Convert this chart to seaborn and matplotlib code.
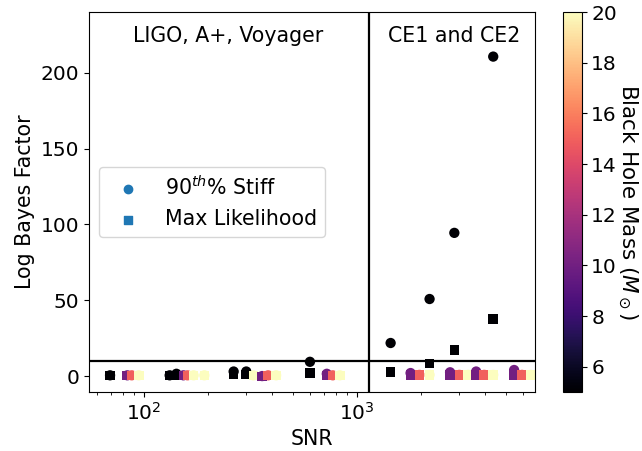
import numpy as np
import pandas as pd
import matplotlib
matplotlib.use('Agg')
import matplotlib.pyplot as plt
import seaborn as sns
from matplotlib.colors import Normalize

# SNR of each event, black hole mass, and log Bayes factors for the two EOS cases
snr = [69.3, 83.5, 87.6, 94.5,
       132, 142, 153, 160, 171, 192,
       263.5, 302, 326, 358.6, 382.5, 417,
       601, 721, 769, 830,
       1437, 1783, 1963, 2189,
       2189, 2732, 3020, 3325,
       2861, 3622, 3953, 4355,
       4355, 5458, 5945, 6540]
mass = [5, 10, 15, 20,
        5, 5, 10, 15, 20, 20,
        5, 5, 20, 10, 15, 20,
        5, 10, 15, 20,
        5, 10, 15, 20,
        5, 10, 15, 20,
        5, 10, 15, 20,
        5, 10, 15, 20]
bf_stiff = [0.5, 0.5, 0.5, 0.5,
            0.5, 1.5, 0.5, 0.5, 0.5, 0.5,
            3.0, 3.0, 0.5, 0.0, 0.5, 0.5,
            9.4, 1.5, 0.5, 0.5,
            21.8, 2.0, 0.8, 0.8,
            50.8, 2.5, 0.8, 0.8,
            94.4, 3.0, 0.8, 0.8,
            210.6, 4.0, 0.8, 0.8]
bf_ml = [0.3, 0.3, 0.3, 0.3,
         0.5, 0.5, 0.3, 0.3, 0.3, 0.3,
         1.0, 1.0, 0.3, -0.3, 0.3, 0.3,
         2.0, 0.3, 0.3, 0.3,
         2.8, 0.6, 0.6, 0.6,
         8.2, 0.6, 0.6, 0.6,
         17.2, 0.6, 0.6, 0.6,
         37.6, 0.6, 0.6, 0.6]

df = pd.DataFrame({'snr': snr, 'mass': mass, 'stiff': bf_stiff, 'ml': bf_ml})

fs = 14.5
plt.rcParams['font.family'] = ['DejaVu Sans']

fig = plt.figure(figsize=(6.42, 4.51), dpi=100)
ax = fig.add_axes([89 / 642, 1 - 392 / 451, 446 / 642, 380 / 451])
cax = fig.add_axes([563 / 642, 1 - 392 / 451, 18.5 / 642, 380 / 451])

sns.scatterplot(data=df, x='snr', y='stiff', hue='mass', palette='magma',
                hue_norm=(5, 20), marker='o', s=55, linewidth=0,
                legend=False, ax=ax)
sns.scatterplot(data=df, x='snr', y='ml', hue='mass', palette='magma',
                hue_norm=(5, 20), marker='s', s=48, linewidth=0,
                legend=False, ax=ax)

# legend proxies
ax.scatter([], [], marker='o', color='C0', label='90$^{th}$% Stiff')
ax.scatter([], [], marker='s', color='C0', label='Max Likelihood')
ax.legend(loc='center left', fontsize=14.8)

ax.set_xscale('log')
ax.set_xlim(55.2, 6840)
ax.set_ylim(-10.5, 240)
ax.axhline(10, color='black', lw=1.6)
ax.axvline(1134, color='black', lw=1.6)

ax.text(249, 224, 'LIGO, A+, Voyager', ha='center', va='center', fontsize=14.8)
ax.text(2855, 224, 'CE1 and CE2', ha='center', va='center', fontsize=14.8)

ax.set_xlabel('SNR', fontsize=14.8)
ax.set_ylabel('Log Bayes Factor', fontsize=14.8)
ax.tick_params(labelsize=fs)

sm = plt.cm.ScalarMappable(norm=Normalize(5, 20), cmap='magma')
cb = fig.colorbar(sm, cax=cax)
cb.set_label('Black Hole Mass ($M_\\odot$)', rotation=270, labelpad=16, fontsize=15.5)
cb.ax.tick_params(labelsize=fs)

fig.savefig('out.png', dpi=100)
